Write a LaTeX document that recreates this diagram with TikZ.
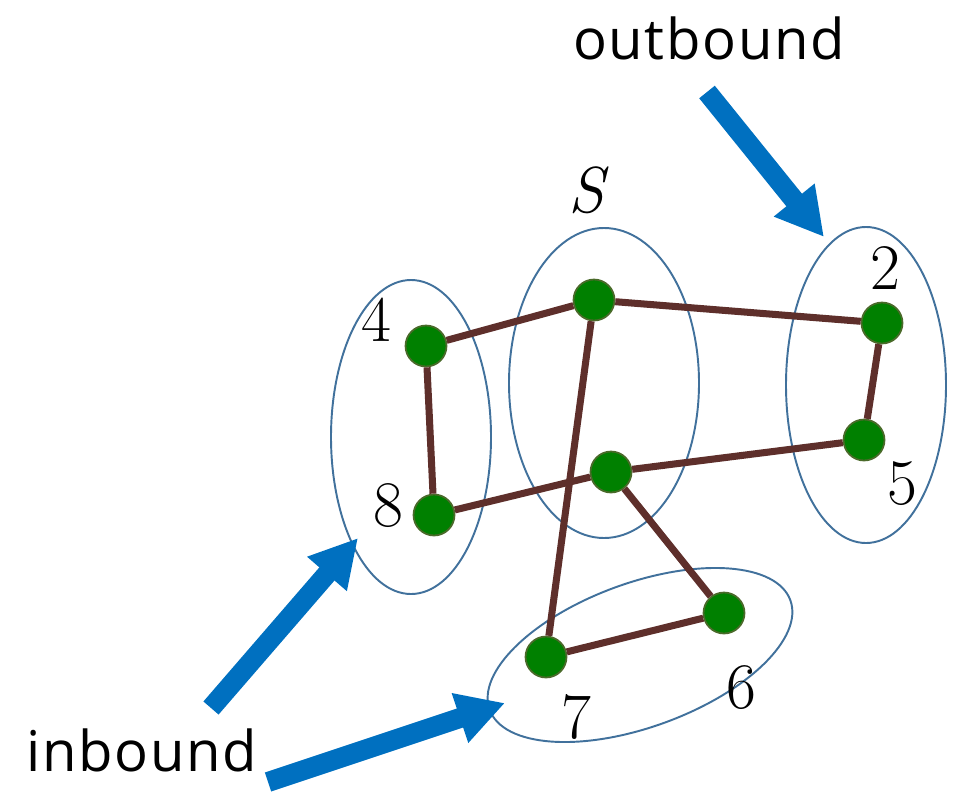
\documentclass[tikz,border=0pt]{standalone}
\usepackage{fontspec}
\usetikzlibrary{positioning,arrows.meta}
\newfontfamily\lblfont{Open Sans}[LetterSpace=3]
\definecolor{grpblue}{HTML}{41719C}
\definecolor{linkbrown}{HTML}{5E2F2B}
\definecolor{flowblue}{HTML}{0070C0}
\definecolor{vertgreen}{HTML}{008000}
\definecolor{vertrim}{HTML}{4A6A2A}

\begin{document}
\begin{tikzpicture}[
  x=0.02cm,y=-0.02cm,
  vert/.style={circle,fill=vertgreen,draw=vertrim,line width=1pt,minimum size=0.82cm,inner sep=0pt},
  grp/.style={draw=grpblue,line width=1.1pt},
  link/.style={draw=linkbrown,line width=4pt},
  flow/.style={draw=flowblue,line width=11.4pt,-{Triangle[length=0.95cm,width=0.98cm]}},
  num/.style={font=\fontsize{37}{42}\selectfont},
  word/.style={font=\lblfont\fontsize{32}{38}\selectfont}
]
\useasboundingbox (0,0) rectangle (953,791);
% groups
\draw[grp] (411,437) ellipse [x radius=80, y radius=157];
\draw[grp] (604,383) ellipse [x radius=95, y radius=155];
\draw[grp] (866,385) ellipse [x radius=80, y radius=158];
\draw[grp,shift={(640,655)},rotate=20] (0,0) ellipse [x radius=160, y radius=72];
% vertices
\node[vert] (s1) at (594,300) {};
\node[vert] (s2) at (611,472) {};
\node[vert] (v4) at (426,346) {};
\node[vert] (v8) at (434,515) {};
\node[vert] (v2) at (882,323) {};
\node[vert] (v5) at (864,440) {};
\node[vert] (v6) at (724,613) {};
\node[vert] (v7) at (546,657) {};
% links
\path (s1) edge[link] (v4);
\path (s1) edge[link] (v2);
\path (v4) edge[link] (v8);
\path (v8) edge[link] (s2);
\path (s2) edge[link] (v5);
\path (v2) edge[link] (v5);
\path (s1) edge[link] (v7);
\path (s2) edge[link] (v6);
\path (v7) edge[link] (v6);
% labels
\node[num] (l4) at (376,320) {4};
\node[num] (l8) at (388,506) {8};
\node[num] (l2) at (885,268) {2};
\node[num] (l5) at (902,484) {5};
\node[num] (l6) at (741,688) {6};
\node[num] (l7) at (576,717) {7};
\node[num] (ls) at (586,190) {\itshape S};
\node[word] (out) at (709,38) {outbound};
\node[word] (in) at (142,750) {inbound};
% flows
\coordinate (outTail) at (707,92);
\coordinate (outTip) at (824,237);
\coordinate (inTailA) at (211,708);
\coordinate (inTipA) at (358,538);
\coordinate (inTailB) at (268,782);
\coordinate (inTipB) at (505,703);
\draw[flow] (outTail) -- (outTip);
\draw[flow] (inTailA) -- (inTipA);
\draw[flow] (inTailB) -- (inTipB);
\end{tikzpicture}
\end{document}
